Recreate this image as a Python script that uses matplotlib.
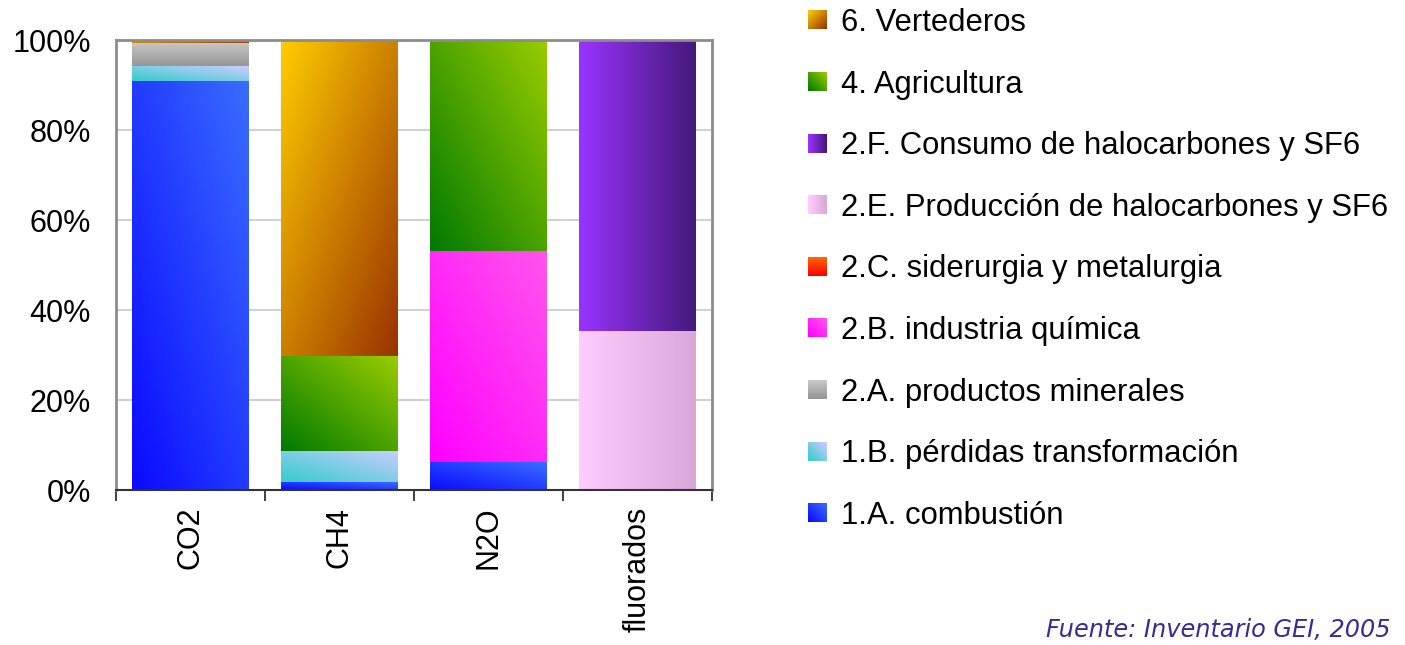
import numpy as np
import matplotlib
matplotlib.use("Agg")
import matplotlib.pyplot as plt
from matplotlib.colors import to_rgb
from matplotlib.legend_handler import HandlerBase
from matplotlib.image import BboxImage
from matplotlib.transforms import Bbox, TransformedBbox

plt.rcParams['font.family'] = ['Liberation Sans', 'DejaVu Sans']

# ---------------- data ----------------
categories = ['CO2', 'CH4', 'N2O', 'fluorados']
series_names = [
    '1.A. combustión',
    '1.B. pérdidas transformación',
    '2.A. productos minerales',
    '2.B. industria química',
    '2.C. siderurgia y metalurgia',
    '2.E. Producción de halocarbones y SF6',
    '2.F. Consumo de halocarbones y SF6',
    '4. Agricultura',
    '6. Vertederos',
]
combustion = [90.9, 1.7, 6.2, 0.0]
perdidas = [3.3, 7.0, 0.0, 0.0]
minerales = [5.2, 0.0, 0.0, 0.0]
quimica = [0.0, 0.0, 46.9, 0.0]
siderurgia = [0.0, 0.0, 0.0, 0.0]
produccion_halo = [0.0, 0.0, 0.0, 35.3]
consumo_halo = [0.0, 0.0, 0.0, 64.7]
agricultura = [0.0, 21.1, 46.9, 0.0]
vertederos = [0.6, 70.2, 0.0, 0.0]
series_values = [combustion, perdidas, minerales, quimica, siderurgia,
                 produccion_halo, consumo_halo, agricultura, vertederos]
yticklabels = ['0%', '20%', '40%', '60%', '80%', '100%']

# gradient specs: (start colour, end colour, direction)
grad_specs = [
    ('#0A0AFF', '#3A6CFF', 'diag'),      # 1.A
    ('#33CCCC', '#CCCCFF', 'diag'),      # 1.B
    ('#969696', '#C8C8C8', 'vert'),      # 2.A
    ('#FF00FF', '#FF55EE', 'diag'),      # 2.B
    ('#FF0000', '#FF6600', 'vert'),      # 2.C
    ('#FFCCFF', '#D9A8D9', 'horiz'),     # 2.E
    ('#9933FF', '#45197A', 'horiz'),     # 2.F
    ('#007A00', '#99CC00', 'diag'),      # 4
    ('#FFCC00', '#993300', 'antidiag'),  # 6
]


def grad_array(spec, nx=64, ny=64):
    c0, c1, d = spec
    u = np.linspace(0, 1, nx)[None, :]
    v = np.linspace(1, 0, ny)[:, None]   # row 0 is top
    if d == 'diag':
        t = (u + v) / 2
    elif d == 'antidiag':
        t = (u + (1 - v)) / 2
    elif d == 'vert':
        t = v * np.ones_like(u)
    else:
        t = u * np.ones_like(v)
    a = np.array(to_rgb(c0))
    b = np.array(to_rgb(c1))
    return a[None, None, :] * (1 - t[..., None]) + b[None, None, :] * t[..., None]


fig = plt.figure(figsize=(14.05, 6.45), dpi=100)
ax = fig.add_axes([116 / 1405, 1 - 490 / 645, (712 - 116) / 1405, 450 / 645])

x = np.arange(len(categories))
width = 0.78
bottom = np.zeros(len(categories))
for vals, spec in zip(series_values, grad_specs):
    vals = np.array(vals)
    bars = ax.bar(x, vals, width, bottom=bottom, color='none', edgecolor='none', zorder=2)
    for rect, val in zip(bars, vals):
        if val <= 0:
            continue
        rx, ry, rw, rh = rect.get_x(), rect.get_y(), rect.get_width(), rect.get_height()
        im = ax.imshow(grad_array(spec), extent=(rx, rx + rw, ry, ry + rh),
                       aspect='auto', interpolation='bilinear', zorder=2)
        im.set_clip_path(rect)
    bottom += vals

ax.set_xlim(-0.5, len(categories) - 0.5)
ax.set_ylim(0, 100)
ax.set_yticks(np.arange(0, 101, 20))
ax.set_yticklabels(yticklabels)
ax.yaxis.grid(True, color='#C8C8C8', linewidth=1.2, zorder=0)
ax.set_axisbelow(True)
ax.tick_params(axis='y', length=0, pad=18, labelsize=22)

ax.set_xticks(x)
ax.set_xticklabels(categories, rotation=90, va='top', ha='center')
ax.tick_params(axis='x', which='major', length=0, pad=12, labelsize=22)
ax.set_xticks(np.arange(-0.5, len(categories)), minor=True)
ax.tick_params(axis='x', which='minor', length=8, width=1.3, color='#333333', direction='out')

for s in ['left', 'top', 'right']:
    ax.spines[s].set_color('#8C8C8C')
    ax.spines[s].set_linewidth(2)
ax.spines['bottom'].set_color('#333333')
ax.spines['bottom'].set_linewidth(1.5)


class GradKey:
    def __init__(self, spec):
        self.spec = spec


class GradHandler(HandlerBase):
    def create_artists(self, legend, orig_handle, xdescent, ydescent, width, height, fontsize, trans):
        s = min(width, height)
        x0 = -xdescent + (width - s) / 2
        y0 = -ydescent + (height - s) / 2
        bb = TransformedBbox(Bbox.from_bounds(x0, y0, s, s), trans)
        img = BboxImage(bb, interpolation='bilinear')
        img.set_data(grad_array(orig_handle.spec, 16, 16))
        return [img]


handles = [GradKey(s) for s in grad_specs][::-1]
labels = series_names[::-1]
fig.legend(handles, labels, handler_map={GradKey: GradHandler()},
           loc='upper left', bbox_to_anchor=(807.5 / 1405, 1 - 8 / 645),
           frameon=False, fontsize=22.3, handlelength=0.6, handleheight=0.6,
           handletextpad=0.48, labelspacing=1.02, borderpad=0, borderaxespad=0)

fig.text(1390 / 1405, 1 - 637 / 645, 'Fuente: Inventario GEI, 2005', ha='right', va='baseline',
         fontsize=17.3, style='italic', color='#3C2896', family='DejaVu Sans')

fig.savefig('out.png', dpi=100)
